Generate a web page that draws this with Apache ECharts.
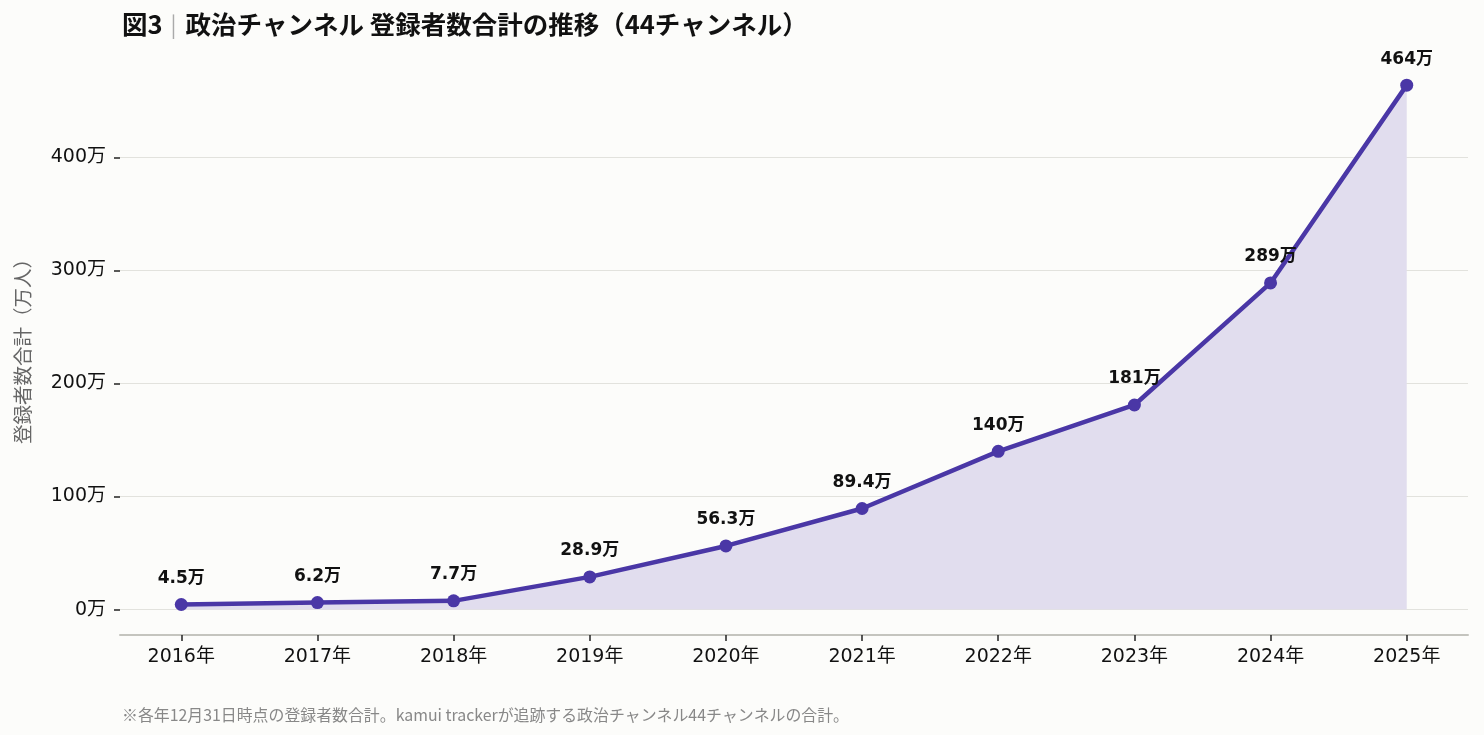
<!DOCTYPE html>
<html>
<head>
<meta charset="utf-8">
<style>
  html, body { margin: 0; padding: 0; background: #fcfcfa; }
  #chart { width: 1484px; height: 735px; }
</style>
<script src="https://cdn.jsdelivr.net/npm/echarts@6/dist/echarts.min.js"></script>
</head>
<body>
<div id="chart"></div>
<script>
"use strict";

// data
var years = [2016, 2017, 2018, 2019, 2020, 2021, 2022, 2023, 2024, 2025];
var subscribers = [4.5, 6.2, 7.7, 28.9, 56.3, 89.4, 140, 181, 289, 464];
var yTicks = [0, 100, 200, 300, 400];

var FONT = "'Noto Sans CJK JP', 'Noto Sans', sans-serif";
// wide latin digits, CJK falls back to Noto
var NUMFONT = "'DejaVu Sans', 'Noto Sans CJK JP', sans-serif";
var PURPLE = "#4a37a6";

var chart = echarts.init(document.getElementById("chart"));

var points = years.map(function (y, i) { return [y, subscribers[i]]; });

var option = {
	backgroundColor: "#fcfcfa",
	textStyle: { fontFamily: FONT },
	title: [
		{
			text: "{b|図3}{sep||}{b|政治チャンネル 登録者数合計の推移（44チャンネル）}",
			left: 117,
			top: 7,
			textStyle: {
				rich: {
					b: { fontFamily: FONT, fontSize: 25.5, fontWeight: "bold", color: "#111" },
					sep: { fontFamily: FONT, fontSize: 22, fontWeight: "normal", color: "#aaa", padding: [0, 9, 0, 8] }
				}
			}
		},
		{
			text: "※各年12月31日時点の登録者数合計。kamui trackerが追跡する政治チャンネル44チャンネルの合計。",
			left: 117,
			top: 702,
			textStyle: { fontFamily: FONT, fontSize: 15.9, fontWeight: "normal", color: "#888" }
		}
	],
	grid: { left: 120, right: 16, top: 58, bottom: 100, containLabel: false },
	xAxis: {
		type: "value",
		min: 2015.55,
		max: 2025.45,
		axisLine: { show: true, onZero: false, lineStyle: { color: "#c4c4be", width: 2 } },
		axisTick: { show: true, customValues: years, length: 6, lineStyle: { color: "#222", width: 1.5 } },
		axisLabel: {
			customValues: years,
			formatter: function (v) { return v + "年"; },
			fontFamily: NUMFONT,
			fontSize: 19,
			color: "#111",
			margin: 13
		},
		splitLine: { show: false }
	},
	yAxis: {
		type: "value",
		min: -22.5,
		max: 488,
		name: "登録者数合計（万人）",
		nameLocation: "middle",
		nameGap: 88,
		nameTextStyle: { fontFamily: FONT, fontSize: 19.5, color: "#666" },
		axisLine: { show: false },
		axisTick: { show: true, customValues: yTicks, length: 6, lineStyle: { color: "#222", width: 1.5 } },
		axisLabel: {
			customValues: yTicks,
			formatter: function (v) { return v + "万"; },
			fontFamily: NUMFONT,
			fontSize: 19,
			color: "#111",
			margin: 14
		},
		splitLine: { show: true, customValues: yTicks, lineStyle: { color: "#e2e2dd", width: 1 } }
	},
	series: [
		{
			type: "line",
			data: points,
			symbol: "circle",
			symbolSize: 13,
			lineStyle: { color: PURPLE, width: 4.5 },
			itemStyle: { color: PURPLE },
			areaStyle: { color: "#e1ddee", opacity: 1, origin: 0 },
			label: {
				show: true,
				position: "top",
				distance: 11,
				formatter: function (p) { return p.value[1] + "万"; },
				fontFamily: NUMFONT,
				fontSize: 17,
				fontWeight: "bold",
				color: "#111"
			},
			z: 3
		}
	]
};

chart.setOption(option);
</script>
</body>
</html>
